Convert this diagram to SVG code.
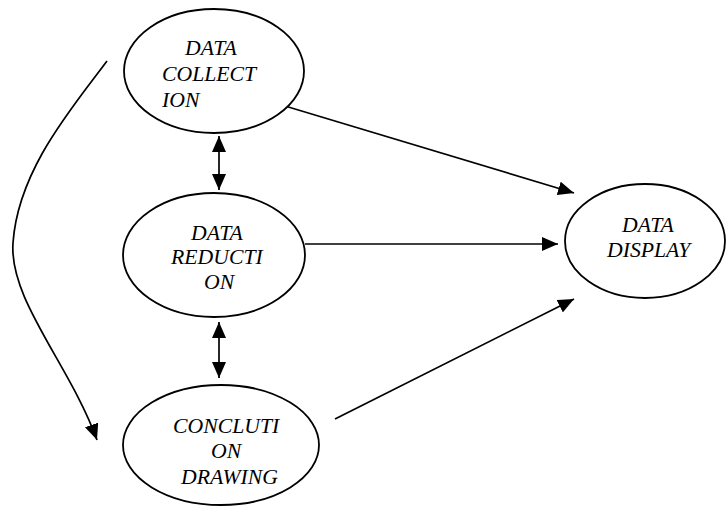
<svg xmlns="http://www.w3.org/2000/svg" width="726" height="508" viewBox="0 0 726 508">
  <style>
    .node ellipse { fill: #ffffff; stroke: #000000; stroke-width: 1.8; }
    .node text { font-family: "Liberation Serif", "Times New Roman", serif; font-style: italic; font-size: 20.5px; fill: #000000; }
    .edge { fill: none; stroke: #000000; stroke-width: 1.7; }
  </style>
  <defs>
    <marker id="arrow" viewBox="0 0 16 14" refX="16" refY="7" markerWidth="16" markerHeight="14" markerUnits="userSpaceOnUse" orient="auto-start-reverse">
      <path d="M0,0 L16,7 L0,14 Z" fill="#000000"/>
    </marker>
  </defs>

  <g id="connectors">
    <path class="edge" d="M285,106 L574,193" marker-end="url(#arrow)"/>
    <path class="edge" d="M305,244 L558,244" marker-end="url(#arrow)"/>
    <path class="edge" d="M335,419 L574,299" marker-end="url(#arrow)"/>
    <path class="edge" d="M219,136 L219,190" marker-start="url(#arrow)" marker-end="url(#arrow)"/>
    <path class="edge" d="M219,322 L219,378" marker-start="url(#arrow)" marker-end="url(#arrow)"/>
    <path class="edge" d="M107,61 C72,108 18,170 13,243 C9,300 70,365 97,440" marker-end="url(#arrow)"/>
  </g>

  <g id="data-collection" class="node">
    <ellipse cx="214" cy="71" rx="90" ry="62"/>
    <text transform="translate(185,55) scale(1.06,1)">DATA</text>
    <text transform="translate(162,81) scale(1.06,1)">COLLECT</text>
    <text transform="translate(162,107) scale(1.06,1)">ION</text>
  </g>

  <g id="data-reduction" class="node">
    <ellipse cx="214" cy="255" rx="91" ry="62"/>
    <text transform="translate(191,240) scale(1.06,1)">DATA</text>
    <text transform="translate(171,264) scale(1.06,1)">REDUCTI</text>
    <text transform="translate(204,289) scale(1.06,1)">ON</text>
  </g>

  <g id="conclusion-drawing" class="node">
    <ellipse cx="221" cy="445" rx="98" ry="60"/>
    <text transform="translate(173,433) scale(1.06,1)">CONCLUTI</text>
    <text transform="translate(211,458) scale(1.06,1)">ON</text>
    <text transform="translate(181,484) scale(1.06,1)">DRAWING</text>
  </g>

  <g id="data-display" class="node">
    <ellipse cx="645" cy="241" rx="80" ry="57"/>
    <text transform="translate(622,232) scale(1.06,1)">DATA</text>
    <text transform="translate(607,257) scale(1.06,1)">DISPLAY</text>
  </g>
</svg>
